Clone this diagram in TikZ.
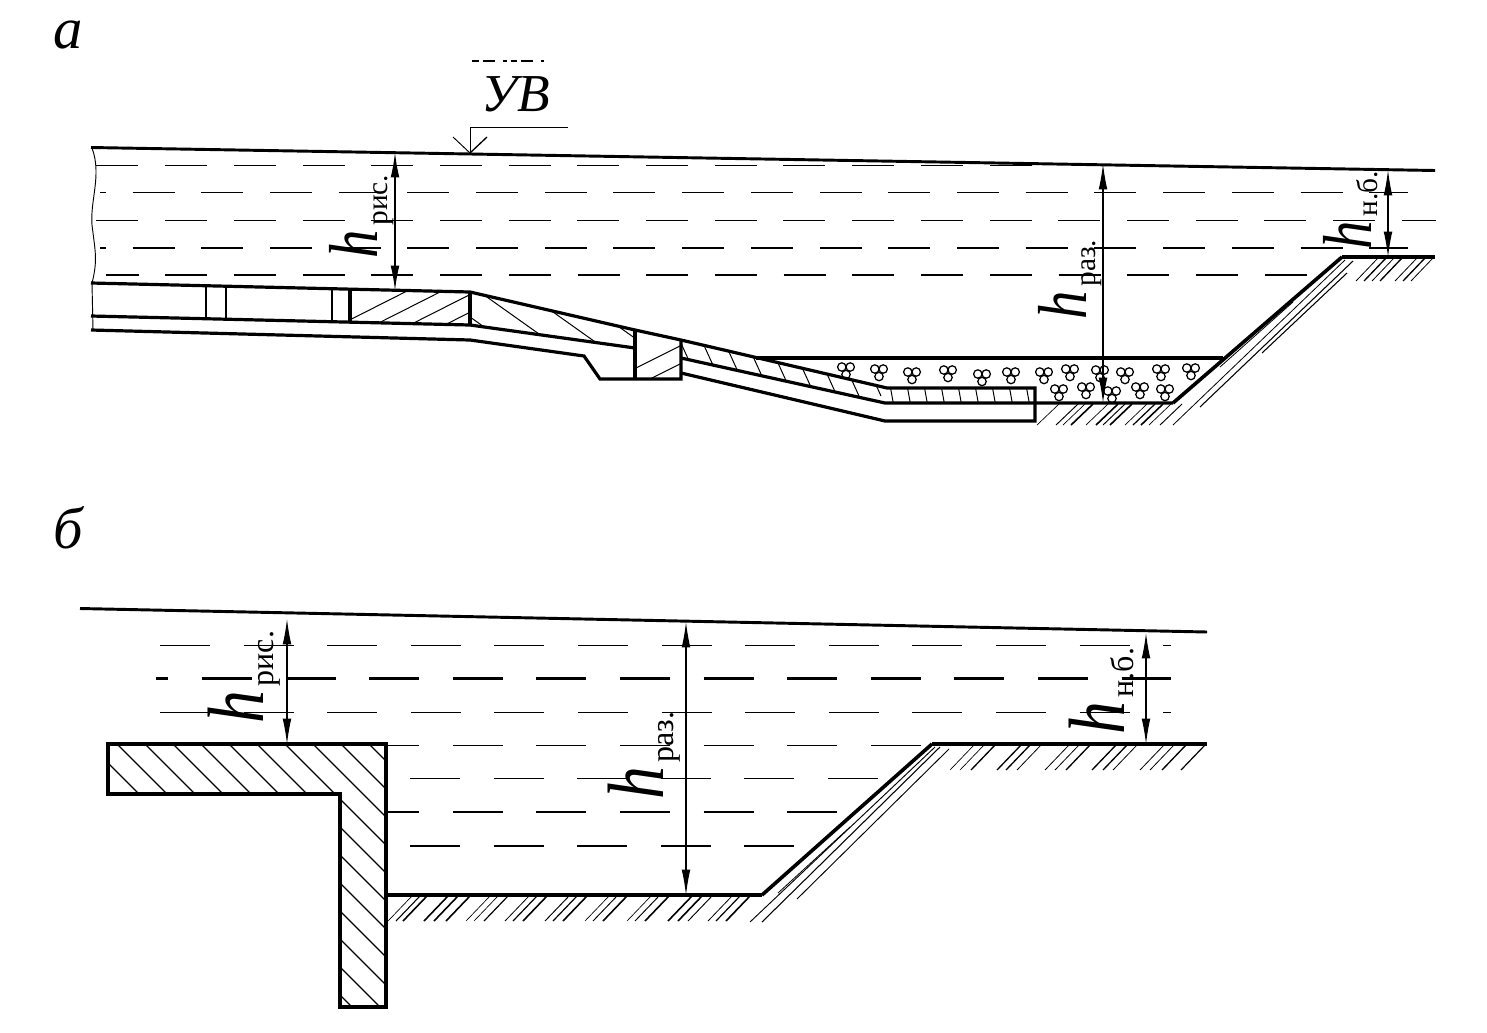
\documentclass[tikz,border=0pt]{standalone}
\usepackage{fontspec}
\usepackage{graphicx}
\setmainfont{Liberation Serif}
\usetikzlibrary{arrows.meta}
\tikzset{
 main/.style={line width=2.4pt,line join=miter},
 thinl/.style={line width=0.7pt},
 hatchl/.style={line width=0.75pt},
 dima/.style={dash pattern=on 31.5pt off 20.03pt},
 dimb/.style={dash pattern=on 37.5pt off 25.2pt},
 dthin/.style={line width=0.7pt},
 dthick/.style={line width=1.4pt},
 dimarrow/.style={{Latex[length=19pt,width=6.5pt]}-{Latex[length=19pt,width=6.5pt]},line width=0.8pt},
 hlab/.style={rotate=90,anchor=base west,inner sep=0pt,outer sep=0pt},
}
\newcommand\hbig[1]{\scalebox{0.82}[1]{\fontsize{#1}{#1}\selectfont\itshape h}\kern3pt}
\newcommand\hsub[3]{\raisebox{#1}{\fontsize{#2}{#2}\selectfont #3}}
\begin{document}
\begin{tikzpicture}[x=0.75pt,y=-0.75pt]
\useasboundingbox (0,0) rectangle (1487,1032);
% labels
\node[inner sep=0pt,anchor=base] (la) at (68,48) {\fontsize{44}{44}\selectfont\itshape а};
\node[inner sep=0pt,anchor=base] (lb) at (68,548) {\fontsize{44}{44}\selectfont\itshape б};
\node[inner sep=0pt,anchor=base] (uv) at (516,111) {\fontsize{40}{40}\selectfont\itshape УВ};
\draw[line width=1.8pt,dash pattern=on 5pt off 3pt on 9pt off 6pt on 3pt off 3pt] (472,61) -- (544,61);
%% PANEL A
\coordinate (s1) at (91,147.5); \coordinate (s2) at (1435,170.5);
\draw[line width=2.2pt] (s1) -- (s2);
\draw[thinl] (92,148) .. controls (102,175) and (90,200) .. (92,225) .. controls (95,250) and (98,260) .. (92,283) -- (93,330);
% water dashes
\draw[dthin,dima] (96.4,165) -- (1033,165);
\draw[dthin,dima,dash phase=27.15pt] (100,192.5) -- (1408,192.5);
\draw[dthick,dima] (96.4,220.5) -- (1436,220.5);
\draw[dthick,dima,dash phase=27.15pt] (100,248) -- (1408,248);
\draw[dthick,dima,dash phase=7pt] (106,275) -- (1308,275);
% hatching of blocks
\begin{scope}
\clip (351,290) -- (470,292) -- (470,325) -- (351,323) -- cycle;
\foreach \s in {310,345,...,470} \draw[hatchl] (\s,340) -- ++(100,-50.5);
\end{scope}
\begin{scope}
\clip (470,292) -- (635,330) -- (635,348) -- (470,325) -- cycle;
\foreach \s in {425,470,...,650} \draw[hatchl] (\s,285) -- ++(100,71);
\end{scope}
\begin{scope}
\clip (635,330) -- (681,340) -- (681,379) -- (635,379) -- cycle;
\foreach \s in {600,636,...,690} \draw[hatchl] (\s,386) -- ++(100,-50);
\end{scope}
\begin{scope}
\clip (681,340) -- (887,388) -- (887,403) -- (681,358) -- cycle;
\foreach \s in {675,697,...,890} \draw[hatchl] (\s,330) -- ++(30,66);
\end{scope}
\begin{scope}
\clip (887,388) rectangle (1035,403);
\foreach \s in {890,907,...,1035} \draw[hatchl] (\s,385) -- ++(4,22);
\end{scope}
% structure
\draw[main] (91,283) -- (470,292) -- (635,330) -- (681,340) -- (887,388) -- (1035,388) -- (1035,421) -- (885,421) -- (681,373);
\draw[main] (91,316) -- (470,325) -- (635,348);
\draw[main] (681,358) -- (885,403) -- (1173,403);
\draw[main] (91,330) -- (470,340) -- (584,356) -- (600,379) -- (681,379) -- (681,340);
\draw[main] (635,330) -- (635,379);
\draw[line width=1.8pt] (206,286) -- (206,318);
\draw[line width=1.8pt] (226,286) -- (226,318);
\draw[line width=1.4pt] (332,290) -- (332,322);
\draw[main] (350,290) -- (350,322);
\draw[main] (470,292) -- (470,325);
\draw[main] (756,358) -- (1223,358);
\draw[line width=2.7pt,line join=miter] (1173,403) -- (1342,257);
\draw[main] (1342,257) -- (1435,257);
% gravel
\foreach \x/\y in {846/370,879/372,912/375,948/373,982/377,1011/375,1044/375,1070/372,1100/373,1125/375,1161/372,1191/371,1059/392,1086/390,1112/394,1140/390,1165/392}{
 \draw[line width=0.95pt] ({\x-4.2},{\y-3}) circle[radius=4.2];
 \draw[line width=0.95pt] ({\x+4.2},{\y-3}) circle[radius=4.2];
 \draw[line width=0.95pt] (\x,{\y+4.5}) circle[radius=4.2];
}
% ground hatching A
\foreach \s/\w in {1037/0.5,1056/0.7,1063/0.5,1071/1.2,1086/0.5,1096/1.2,1103/0.7,1110/1.2,1125/0.5,1133/0.9,1141/1.2,1149/0.5,1160/0.7}
 \draw[line width=\w pt] (\s,425) -- ++(22,-21);
\foreach \s/\w in {1356/0.6,1364/1,1372/0.6,1380/1,1395/0.6,1403/1,1411/0.6}
 \draw[line width=\w pt] (\s,281) -- ++(22,-23);
\draw[line width=0.6pt] (1173,425) -- (1345,260);
\draw[line width=0.8pt] (1200,407) -- (1353,261);
\draw[line width=0.8pt] (1262,353) -- (1347,273);
\draw[line width=0.6pt] (1220,367) -- (1293,302);
% UV leader
\coordinate (uvp) at (470,153);
\coordinate (uvq) at (470,127);
\draw[thinl] (568,127) -- (uvq) -- (uvp);
\draw[thinl] (453,137) -- (uvp);
\draw[line width=1pt] (487,137) -- (uvp);
% dims A
\coordinate (a1t) at (395,152); \coordinate (a1b) at (395,291);
\coordinate (a2t) at (1103,164); \coordinate (a2b) at (1103,403);
\coordinate (a3t) at (1388,170); \coordinate (a3b) at (1388,257);
\draw[dimarrow,line width=1.2pt] (a1t) -- (a1b);
\draw[dimarrow] (a2t) -- (a2b);
\draw[dimarrow] (a3t) -- (a3b);
\node[hlab] (ha1) at (377,258) {\hbig{52}\hsub{-8pt}{22}{рис.}};
\node[hlab] (ha2) at (1086,319) {\hbig{52}\hsub{-7pt}{22}{раз.}};
\node[hlab] (ha3) at (1371,249) {\hbig{52}\hsub{-5pt}{22}{н.б.}};
%% PANEL B
\coordinate (t1) at (80,608.5); \coordinate (t2) at (1207,632);
\draw[line width=2.2pt] (t1) -- (t2);
\draw[dthin,dimb] (160,645) -- (1171,645);
\draw[line width=1.7pt,dimb,dash phase=28.2pt] (156,678.5) -- (1171,678.5);
\draw[dthin,dimb] (160,712) -- (1171,712);
\draw[dthin,dimb,dash phase=14.1pt] (388,745.5) -- (922,745.5);
\draw[dthin,dimb] (410,778.5) -- (880,778.5);
\draw[line width=1.7pt,dimb,dash phase=14.1pt] (388,812) -- (837,812);
\draw[line width=1.1pt,dimb] (410,846) -- (796,846);
\begin{scope}
\clip (108,744) -- (386,744) -- (386,1007) -- (340,1007) -- (340,794) -- (108,794) -- cycle;
\foreach \c in {-655,-627,...,-360}
 \draw[line width=1pt] (100,{100-\c}) -- (400,{400-\c});
\end{scope}
\draw[line width=2.8pt,line join=miter] (108,744) -- (386,744) -- (386,1007) -- (340,1007) -- (340,794) -- (108,794) -- cycle;
\draw[main] (386,895) -- (762,895);
\draw[line width=2.7pt,line join=miter] (762,895) -- (932,744);
\draw[main] (932,744) -- (1207,744);
\foreach \s/\w in {388/0.5,396/0.8,403/1.2,424/1.2,434/1.2,446/1.2,466/0.5,474/0.5,484/0.9,505/0.6,513/0.9,523/1.2,545/0.7,553/0.9,563/1.2,585/0.5,593/0.7,603/1.2,627/0.5,635/0.7,645/1.2,668/1.2,678/1.2,688/0.7,708/0.6,716/0.9,726/1.2}
 \draw[line width=\w pt] (\s,921) -- ++(24,-25);
\foreach \s/\w in {950/0.5,960/0.5,971/1,997/1,1006/1,1017/0.6,1045/0.6,1055/0.6,1066/1,1092/1,1103/1,1113/0.6,1140/0.6,1150/0.6,1162/1,1181/0.9}
 \draw[line width=\w pt] (\s,770) -- ++(24,-25);
\draw[line width=0.7pt] (750,922) -- (935,747);
\draw[line width=0.8pt] (762,922) -- (940,747);
\draw[line width=0.7pt] (797,899) -- (949,749);
\draw[line width=0.6pt] (778,893) -- (850,827);
\coordinate (b1t) at (287,619); \coordinate (b1b) at (287,744);
\coordinate (b2t) at (686,622); \coordinate (b2b) at (686,895);
\coordinate (b3t) at (1146,633); \coordinate (b3b) at (1146,744);
\draw[dimarrow] (b1t) -- (b1b);
\draw[dimarrow] (b2t) -- (b2b);
\draw[dimarrow] (b3t) -- (b3b);
\node[hlab] (hb1) at (263,723) {\hbig{60}\hsub{-8pt}{24}{рис.}};
\node[hlab] (hb2) at (663,799) {\hbig{60}\hsub{-8pt}{24}{раз.}};
\node[hlab] (hb3) at (1124,734) {\hbig{60}\hsub{-7pt}{24}{н.б.}};
\end{tikzpicture}
\end{document}
